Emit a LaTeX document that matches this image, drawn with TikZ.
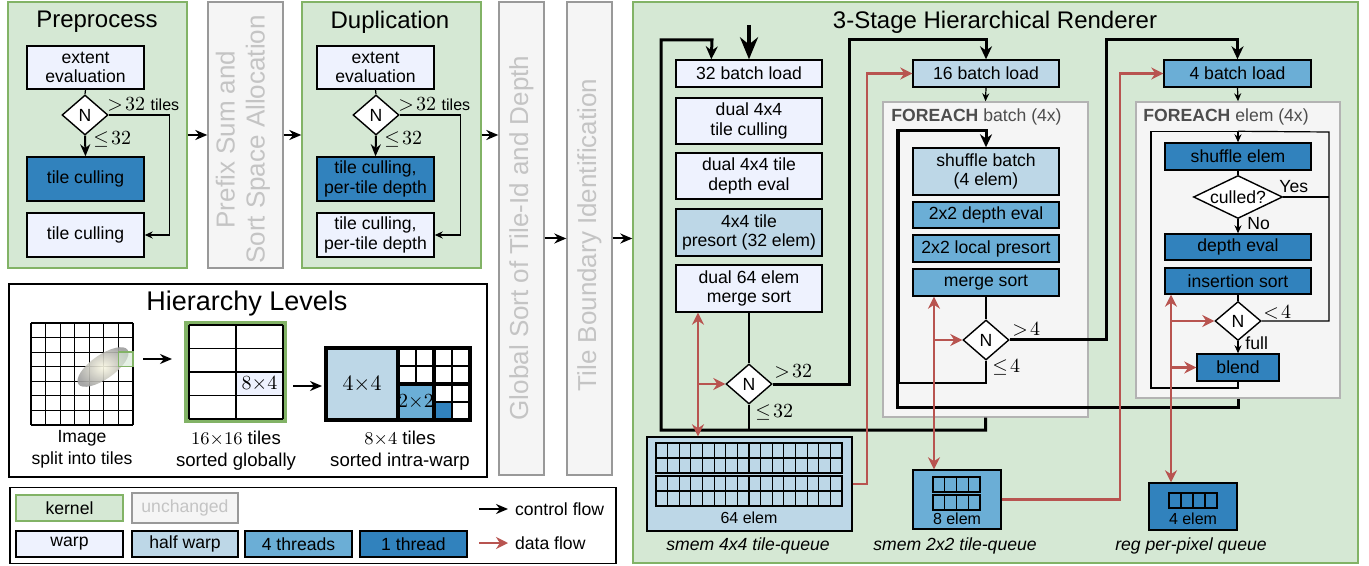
\documentclass[tikz,border=0pt]{standalone}
\usepackage{amsmath, amssymb}
\usepackage[no-math]{fontspec}
\setmainfont{Liberation Sans}
\usepackage{tikz}
\usetikzlibrary{arrows.meta, shapes.geometric}
\definecolor{kernelfill}{HTML}{D5E8D4}
\definecolor{kerneldraw}{HTML}{82B366}
\definecolor{unchfill}{HTML}{F5F5F5}
\definecolor{unchdraw}{HTML}{999999}
\definecolor{unchtext}{HTML}{C4C4C4}
\definecolor{warpfill}{HTML}{EEF2FE}
\definecolor{halffill}{HTML}{BDD7E7}
\definecolor{fourfill}{HTML}{6BAED6}
\definecolor{onefill}{HTML}{3182BD}
\definecolor{dataflow}{HTML}{B85450}
\definecolor{loopfill}{HTML}{F5F5F5}
\definecolor{loopdraw}{HTML}{B3B3B3}
\definecolor{labelgray}{HTML}{4D4D4D}
\tikzset{
    sz/.code 2 args={\pgfmathsetmacro\szw{#1*0.5}\pgfmathsetmacro\szh{#2*0.5}\tikzset{minimum width=\szw pt, minimum height=\szh pt}},
    blk/.style={draw, line width=0.7pt, align=center, inner sep=0pt},
    warpbox/.style={blk, fill=warpfill},
    halfbox/.style={blk, fill=halffill},
    fourbox/.style={blk, fill=fourfill},
    onebox/.style={blk, fill=onefill},
    kernelbox/.style={draw=kerneldraw, fill=kernelfill, line width=0.7pt},
    unchbox/.style={draw=unchdraw, fill=unchfill, line width=0.7pt, text=unchtext},
    loopbox/.style={draw=loopdraw, fill=loopfill, line width=0.7pt},
    dia/.style={diamond, draw, fill=white, line width=0.7pt, inner sep=0pt},
    paneltitle/.style={font=\fontsize{12}{14}\selectfont},
    sidetext/.style={font=\fontsize{13}{15}\selectfont, text=unchtext, rotate=90, align=center},
    lab/.style={anchor=west, inner sep=0pt, font=\fontsize{10}{11}\selectfont},
    gridln/.style={line width=0.6pt},
    thinl/.style={line width=0.6pt},
    thina/.style={thinl, -{Stealth[length=4pt, width=3.5pt]}},
    ctrl/.style={line width=1pt, -{Stealth[length=6pt, width=5pt]}},
    loopln/.style={line width=1.5pt, -{Stealth[length=6.5pt, width=6pt]}},
    bigin/.style={line width=2pt, -{Stealth[length=11pt, width=9pt]}},
    dataln/.style={draw=dataflow, line width=1.1pt},
    dataa/.style={dataln, -{Stealth[length=6pt, width=6pt]}},
    datab/.style={dataln, {Stealth[length=6pt, width=6pt]}-{Stealth[length=6pt, width=6pt]}},
}

\begin{document}
\begin{tikzpicture}[x=0.5pt, y=-0.5pt, font=\fontsize{8.8}{9.6}\selectfont]
\fill[white] (0,0) rectangle (1369,566);

% preprocess
\node[kernelbox, sz={179}{266}] (pre) at (97.5,135) {};
\node[paneltitle] (preT) at (97,22) {Preprocess};
\node[warpbox, sz={117}{43}] (ext1) at (85.5,67.5) {extent\\evaluation};
\node[dia, sz={46}{40}] (dia1) at (85,115) {N};
\node[onebox, sz={117}{44}] (cull1) at (85.5,179) {tile culling};
\node[warpbox, sz={117}{44}] (cull1b) at (85.5,235) {tile culling};
\node[lab] (gt1) at (107,104) {$>\!32$ {\fontsize{8}{9}\selectfont tiles}};
\node[lab] (le1) at (93,139) {$\leq\!32$};
\draw[thinl] (ext1.south) -- (dia1.north);
\draw[ctrl] (dia1.south) -- (cull1.north);
\draw[thina] (dia1.east) -| ([xshift=12.5pt]cull1b.east) -- (cull1b.east);

\node[unchbox, sz={75}{266}] (prefix) at (245.5,135) {};
\node[sidetext] (prefixT) at (243,139.5) {Prefix Sum and\\Sort Space Allocation};

% duplication
\node[kernelbox, sz={179}{266}] (dup) at (391.5,135) {};
\node[paneltitle] (dupT) at (390,22) {Duplication};
\node[warpbox, sz={117}{43}] (ext2) at (375.5,67.5) {extent\\evaluation};
\node[dia, sz={46}{40}] (dia2) at (376,115) {N};
\node[onebox, sz={117}{44}] (cull2) at (375.5,179) {tile culling,\\per-tile depth};
\node[warpbox, sz={117}{44}] (cull2b) at (375.5,235) {tile culling,\\per-tile depth};
\node[lab] (gt2) at (398,104) {$>\!32$ {\fontsize{8}{9}\selectfont tiles}};
\node[lab] (le2) at (384,139) {$\leq\!32$};
\draw[thinl] (ext2.south) -- (dia2.north);
\draw[ctrl] (dia2.south) -- (cull2.north);
\draw[thina] (dia2.east) -| ([xshift=13pt]cull2b.east) -- (cull2b.east);

\node[unchbox, sz={45}{473}] (gsort) at (521.5,238.5) {};
\node[sidetext] (gsortT) at (521.5,238) {Global Sort of Tile-Id and Depth};
\node[unchbox, sz={45}{473}] (tbound) at (589.5,238.5) {};
\node[sidetext] (tboundT) at (589.5,235) {Tile Boundary Identification};

% renderer
\node[kernelbox, sz={725}{561}] (rend) at (995.5,282.5) {};
\node[paneltitle] (rendT) at (995,22) {3-Stage Hierarchical Renderer};

\draw[ctrl] (pre.east) -- (prefix.west);
\draw[ctrl] (prefix.east) -- (dup.west);
\draw[ctrl] (dup.east) -- (dup.east -| gsort.west);
\draw[ctrl] (gsort.east) -- (tbound.west);
\draw[ctrl] (tbound.east) -- (tbound.east -| rend.west);

\node[warpbox, sz={146}{27}] (load32) at (749,73.5) {32 batch load};
\node[warpbox, sz={146}{46}] (cull32) at (749,121) {dual 4x4\\tile culling};
\node[warpbox, sz={146}{46}] (depth32) at (749,176) {dual 4x4 tile\\depth eval};
\node[halfbox, sz={146}{47}] (pre32) at (749,232.5) {4x4 tile\\presort (32 elem)};
\node[warpbox, sz={146}{47}] (merge64) at (749,288.5) {dual 64 elem\\merge sort};
\node[dia, sz={46}{40}] (dia32) at (749,384) {N};
\node[halfbox, sz={205}{94}] (q64) at (749.5,484) {};
\node[font=\fontsize{8}{9}\selectfont] (q64L) at (749,518) {64 elem};
\node[font=\fontsize{8.8}{9.6}\selectfont\itshape] (q64T) at (748,546) {smem 4x4 tile-queue};
\node[lab] (gt32) at (774,371) {$>\!32$};
\node[lab] (le32) at (755,412) {$\leq\!32$};

\node[halfbox, sz={146}{27}] (load16) at (986,73.5) {16 batch load};
\node[loopbox, sz={205}{315}] (fe1) at (985.5,259.5) {};
\node[anchor=west, inner sep=0pt, text=labelgray] (fe1T) at (891,117) {\textbf{FOREACH} batch (4x)};
\node[halfbox, sz={146}{47}] (shuf4) at (986,171.5) {shuffle batch\\(4 elem)};
\node[fourbox, sz={146}{26}] (dep22) at (986,215) {2x2 depth eval};
\node[fourbox, sz={146}{27}] (pre22) at (986,248.5) {2x2 local presort};
\node[fourbox, sz={146}{27}] (merge22) at (986,282.5) {merge sort};
\node[dia, sz={46}{40}] (dia4) at (986,340) {N};
\node[fourbox, sz={88}{59}] (q8) at (957,499.5) {};
\node[font=\fontsize{8}{9}\selectfont] (q8L) at (957,519) {8 elem};
\node[font=\fontsize{8.8}{9.6}\selectfont\itshape] (q8T) at (955,546) {smem 2x2 tile-queue};
\node[lab] (gt4) at (1012,329) {$>\!4$};
\node[lab] (le4) at (992,367) {$\leq\!4$};

\node[fourbox, sz={147}{27}] (load4) at (1237.5,73.5) {4 batch load};
\node[loopbox, sz={204}{296}] (fe2) at (1238,250) {};
\node[anchor=west, inner sep=0pt, text=labelgray] (fe2T) at (1143,117) {\textbf{FOREACH} elem (4x)};
\node[onebox, sz={146}{27}] (shufE) at (1238,156.5) {shuffle elem};
\node[dia, sz={89}{43}, label=center:culled?] (culled) at (1238,197) {};
\node[onebox, sz={146}{26}] (depE) at (1238,247) {depth eval};
\node[onebox, sz={146}{26}] (insS) at (1238,281) {insertion sort};
\node[dia, sz={46}{39}] (diaF) at (1238,321) {N};
\node[onebox, sz={82}{27}] (blend) at (1238,367.5) {blend};
\node[onebox, sz={88}{47}] (q4) at (1193,506.5) {};
\node[font=\fontsize{8}{9}\selectfont] (q4L) at (1193,519) {4 elem};
\node[font=\fontsize{8.8}{9.6}\selectfont\itshape] (q4T) at (1191,546) {reg per-pixel queue};
\node[lab] (lt4) at (1263,312) {$<\!4$};
\node[lab, font=\fontsize{8.8}{9.6}\selectfont] (full) at (1245,343) {full};
\node[lab, font=\fontsize{8.8}{9.6}\selectfont] (yes) at (1279,187) {Yes};
\node[lab, font=\fontsize{8.8}{9.6}\selectfont] (no) at (1247,224) {No};

% queue cells
\foreach \g in {443,476} {
  \draw[gridln] (656,\g) rectangle (842,\g+30);
  \draw[gridln] (656,\g+15) -- (842,\g+15);
  \foreach \i in {1,...,15} \draw[gridln] (656+11.625*\i,\g) -- ++(0,30);
}
\foreach \g in {477,495} {
  \draw[gridln] (933,\g) rectangle (980,\g+15);
  \foreach \i in {1,2,3} \draw[gridln] (933+11.75*\i,\g) -- ++(0,15);
}
\draw[gridln] (1169,493) rectangle (1217,508);
\foreach \i in {1,2,3} \draw[gridln] (1169+12*\i,493) -- ++(0,15);

% control flow
\coordinate (entry) at (749,25);
\coordinate (yesR) at (1329,197);
\draw[bigin] (entry) -- (load32.north);
\draw[loopln] (fe1.south) |- (661,430) |- (712,40) -- ([xshift=18pt]load32.north west);
\draw[thinl] (merge64.south) -- (dia32.north);
\draw[thinl] (dia32.south) -- ++(0,26);
\draw[loopln] (dia32.east) -| (849,40) -| (load16.north);
\draw[thina] (load16.south) -- (fe1.north);
\draw[thinl] (merge22.south) -- (dia4.north);
\draw[thinl] (dia4.south) |- (899,383) -- (899,132);
\draw[loopln] (fe2.south) |- (897,407) |- ([yshift=8.5pt]shuf4.north) -- (shuf4.north);
\draw[loopln] (dia4.east) -| (1106,40) -| (load4.north);
\draw[thina] (load4.south) -- (fe2.north);
\draw[thinl] (shufE.south) -- (culled.north);
\draw[thina] (culled.south) -- (depE.north);
\draw[thinl] (insS.south) -- (diaF.north);
\draw[thina] (diaF.south) -- (blend.north);
\draw[thina] (blend.south) |- (1151,388) |- ([yshift=5.5pt]shufE.north) -- (shufE.north);
\draw[thinl] (diaF.east) -| (1329,132) -- ([yshift=5.5pt]shufE.north);
\draw[thinl] (culled.east) -- (yesR);

% data flow
\coordinate (d1) at ([xshift=-25.5pt]merge64.south);
\coordinate (d2) at ([xshift=-26pt]merge22.south);
\coordinate (d3) at ([xshift=-33.5pt]insS.south);
\draw[datab] (d1) -- (d1 |- q64.north);
\draw[dataa] (d1 |- dia32.west) -- (dia32.west);
\draw[dataa] (q64.east) -| ([xshift=-22.5pt]load16.west) -- (load16.west);
\draw[datab] (d2) -- (d2 |- q8.north);
\draw[dataa] (d2 |- dia4.west) -- (dia4.west);
\draw[dataa] (q8.east) -| ([xshift=-21.5pt]load4.west) -- (load4.west);
\draw[datab] (d3) -- (d3 |- q4.north);
\draw[dataa] (d3 |- diaF.west) -- (diaF.west);
\draw[dataa] (d3 |- blend.west) -- (blend.west);

% hierarchy levels
\node[draw, line width=0.7pt, sz={478}{193}] (hier) at (248,380.5) {};
\node[font=\fontsize{13.5}{15}\selectfont] (hierT) at (247,304) {Hierarchy Levels};
\foreach \i in {0,...,7} {
  \draw[gridln] (31+\i*14.57,323) -- ++(0,102);
  \draw[gridln] (31,323+\i*14.57) -- ++(102,0);
}
\shade[inner color={rgb,255:red,250;green,248;blue,228}, outer color=black!38, opacity=.9, rotate around={35:(103,367)}] (103,367) ellipse [x radius=30, y radius=12];
\draw[draw=kerneldraw, fill=kernelfill, fill opacity=.6, line width=0.6pt] (118.7,352.1) rectangle (133,366.7);
\draw[draw=kerneldraw, line width=2pt] (186,323) rectangle (285,421);
\fill[white] (189,325) rectangle (283,419);
\fill[warpfill] (236,372) rectangle (283,395.5);
\foreach \j in {0,...,4} \draw[gridln] (189,325+\j*23.5) -- (283,325+\j*23.5);
\foreach \i in {189,236,283} \draw[gridln] (\i,325) -- (\i,419);
\node[font=\fontsize{10}{11}\selectfont] (c84) at (259.5,383.75) {$8{\times}4$};
\fill[halffill] (326,348) rectangle (398,420);
\fill[white] (398,348) rectangle (470,420);
\fill[fourfill] (398,384) rectangle (434,420);
\fill[onefill] (434,402) rectangle (452,420);
\foreach \qx/\qy in {398/348, 434/348, 434/384} {
  \draw[gridln] (\qx+18,\qy) -- ++(0,36);
  \draw[gridln] (\qx,\qy+18) -- ++(36,0);
}
\draw[line width=1.6pt] (326,348) rectangle (470,420);
\draw[line width=1.6pt] (398,348) -- (398,420);
\draw[line width=1.6pt] (434,348) -- (434,420);
\draw[line width=1.6pt] (398,384) -- (470,384);
\node[font=\fontsize{11}{12}\selectfont] (c44) at (362,384) {$4{\times}4$};
\node[font=\fontsize{10}{11}\selectfont] (c22) at (416,402) {$2{\times}2$};
\coordinate (h1a) at (143,359);
\coordinate (h1b) at (172,359);
\coordinate (h2a) at (293,386);
\coordinate (h2b) at (322,386);
\draw[ctrl] (h1a) -- (h1b);
\draw[ctrl] (h2a) -- (h2b);
\node[align=center, font=\fontsize{8.8}{11}\selectfont] (imgT) at (82,449) {Image\\split into tiles};
\node[align=center, font=\fontsize{9.3}{11}\selectfont] (globT) at (236,451) {$16{\times}16$ tiles\\sorted globally};
\node[align=center, font=\fontsize{9.3}{11}\selectfont] (warpT) at (400,451) {$8{\times}4$ tiles\\sorted intra-warp};

% legend
\node[draw, line width=0.7pt, sz={606}{76}] (legend) at (313,525.5) {};
\node[kernelbox, sz={107}{26}] (lgK) at (69.5,508) {kernel};
\node[unchbox, sz={106}{26}] (lgU) at (185,508) {unchanged};
\node[warpbox, sz={107}{26}] (lgW) at (69.5,544) {warp};
\node[halfbox, sz={106}{26}] (lgH) at (185,544) {half warp};
\node[fourbox, sz={107}{26}] (lgF) at (298.5,544) {4 threads};
\node[onebox, sz={107}{26}] (lgO) at (413.5,544) {1 thread};
\coordinate (lgC) at (479,509);
\coordinate (lgD) at (479,543);
\node[anchor=west] (lgCT) at (508,509) {control flow};
\node[anchor=west] (lgDT) at (508,543) {data flow};
\draw[ctrl] (lgC) -- (lgCT.west);
\draw[dataa] (lgD) -- (lgDT.west);
\end{tikzpicture}
\end{document}
